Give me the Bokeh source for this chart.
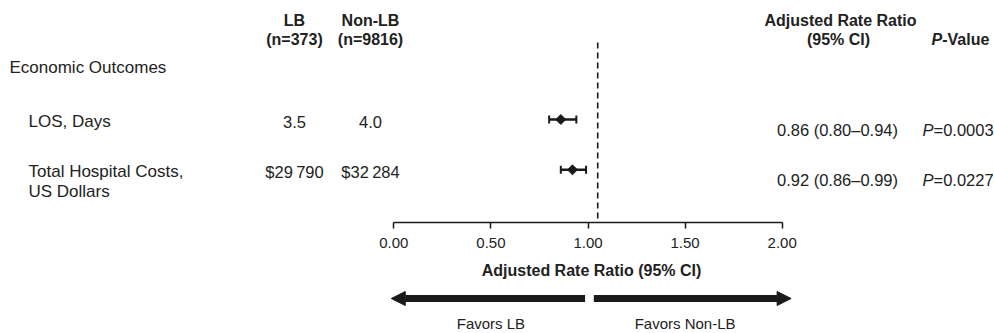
import math
from bokeh.plotting import figure
from bokeh.layouts import column
from bokeh.models import Range1d, FixedTicker, NumeralTickFormatter, Arrow, NormalHead, ColumnDataSource
from bokeh.core.properties import value
from bokeh.embed import file_html
from bokeh.resources import INLINE

# ---------------- data ----------------
outcomes = ["LOS, Days", "Total Hospital Costs,\nUS Dollars"]
lb_values = ["3.5", "$29\u2009790"]
nonlb_values = ["4.0", "$32\u2009284"]
rate_ratio = [0.86, 0.92]
ci_low = [0.80, 0.86]
ci_high = [0.94, 0.99]
rr_labels = ["0.86 (0.80\u20130.94)", "0.92 (0.86\u20130.99)"]
p_labels = ["=0.0003", "=0.0227"]
section = "Economic Outcomes"
ticks = [0.0, 0.5, 1.0, 1.5, 2.0]
ref_line = 1.05
axis_title = "Adjusted Rate Ratio (95% CI)"
favors = ["Favors LB", "Favors Non-LB"]

# ---------------- layout helpers ----------------
FONT = "Liberation Sans"
W, H = 994, 333
X0_PX, PX_PER_UNIT = 393.3, 194.2          # px of x=0, px per unit
ROW0_PX, ROW_STEP = 119.0, 50.3            # px of row 0, px per row
TOP_FRAME_H = 222
TOP_H = 256
BOT_H = H - TOP_H

def dx(px):
    return (px - X0_PX) / PX_PER_UNIT

def ry(py):
    return (py - ROW0_PX) / ROW_STEP

x_range = Range1d(dx(0), dx(W))

p = figure(width=W, height=TOP_H, x_range=x_range,
           y_range=Range1d(ry(TOP_FRAME_H), ry(0)),
           output_backend="svg", toolbar_location=None,
           min_border_left=0, min_border_right=0, min_border_top=0,
           min_border_bottom=TOP_H - TOP_FRAME_H)
p.outline_line_color = None
p.grid.visible = False
p.yaxis.visible = False
p.background_fill_color = "white"
p.border_fill_color = "white"

INK = "#1a1a1a"
TXT = "#222222"

ax = p.xaxis[0]
ax.bounds = (ticks[0], ticks[-1])
ax.ticker = FixedTicker(ticks=ticks)
ax.formatter = NumeralTickFormatter(format="0.00")
ax.major_tick_in = 0
ax.major_tick_out = 6
ax.minor_tick_line_color = None
ax.axis_line_width = 1.5
ax.major_tick_line_width = 1.5
ax.axis_line_color = INK
ax.major_tick_line_color = INK
ax.major_label_text_font = FONT
ax.major_label_text_font_size = "15px"
ax.major_label_text_color = TXT
ax.major_label_standoff = 9


def txt(fig, x, y, s, align="left", style="normal", size="17px"):
    fig.text(x=x, y=y, text=s, text_font=value(FONT), text_font_size=size,
             text_font_style=style, text_align=align, text_baseline="middle",
             text_color=TXT)

rows = list(range(len(outcomes)))

# headers
txt(p, [dx(294), dx(370)], [ry(20)] * 2, ["LB", "Non-LB"], align="center", style="bold", size="16px")
txt(p, [dx(294), dx(370)], [ry(39)] * 2, ["(n=373)", "(n=9816)"], align="center", style="bold", size="16px")
txt(p, [dx(840)], [ry(20)], ["Adjusted Rate Ratio"], align="center", style="bold", size="16px")
txt(p, [dx(838)], [ry(39)], ["(95% CI)"], align="center", style="bold", size="16px")
txt(p, [dx(931)], [ry(39)], ["P"], style="bold italic", size="16px")
txt(p, [dx(931 + 10.7)], [ry(39)], ["-Value"], style="bold", size="16px")

# section label
txt(p, [dx(9)], [ry(66.7)], [section])

# outcome labels (support two-line labels)
lab_x, lab_y, lab_t = [], [], []
for r, lab in zip(rows, outcomes):
    for k, line in enumerate(lab.split("\n")):
        lab_x.append(dx(28))
        lab_y.append(r + ry(ROW0_PX + 1.5 + 20 * k))
        lab_t.append(line)
txt(p, lab_x, lab_y, lab_t)

# values
val_y = [r + ry(ROW0_PX + 2) for r in rows]
txt(p, [dx(294)] * len(rows), val_y, lb_values, align="center", size="16.5px")
txt(p, [dx(370)] * len(rows), val_y, nonlb_values, align="center", size="16.5px")

# right columns
rc_y = [r + ry(ROW0_PX + 10.5) for r in rows]
txt(p, [dx(837)] * len(rows), rc_y, rr_labels, align="center", size="16.5px")
txt(p, [dx(922)] * len(rows), rc_y, ["P"] * len(rows), style="italic", size="16.5px")
txt(p, [dx(922 + 11)] * len(rows), rc_y, p_labels, size="16.5px")

# reference line
p.segment(x0=[ref_line], x1=[ref_line], y0=[ry(42)], y1=[ry(TOP_FRAME_H)],
          line_color=INK, line_width=1.6, line_dash="6 4")

# CIs
src = ColumnDataSource(dict(y=rows, rr=rate_ratio, lo=ci_low, hi=ci_high))
p.segment(x0="lo", x1="hi", y0="y", y1="y", source=src, line_color=INK, line_width=2.4)
p.scatter(x="lo", y="y", source=src, marker="dash", angle=math.pi / 2, size=8,
          line_color=INK, line_width=2)
p.scatter(x="hi", y="y", source=src, marker="dash", angle=math.pi / 2, size=8,
          line_color=INK, line_width=2)
p.scatter(x="rr", y="y", source=src, marker="square", angle=math.pi / 4, size=7,
          fill_color=INK, line_color=INK)

# ---------------- bottom strip (axis title + arrows) ----------------
b = figure(width=W, height=BOT_H, x_range=x_range, y_range=Range1d(BOT_H, 0),
           output_backend="svg", toolbar_location=None,
           min_border_left=0, min_border_right=0, min_border_top=0, min_border_bottom=0)
b.outline_line_color = None
b.grid.visible = False
b.axis.visible = False
b.border_fill_color = "white"

txt(b, [dx(591)], [270 - TOP_H], [axis_title], align="center", style="bold", size="16px")

arrow_y = 298 - TOP_H
b.add_layout(Arrow(end=NormalHead(size=14, fill_color=INK, line_color=INK),
                   x_start=0.985, x_end=-0.013, y_start=arrow_y, y_end=arrow_y,
                   line_width=7, line_color=INK))
b.add_layout(Arrow(end=NormalHead(size=14, fill_color=INK, line_color=INK),
                   x_start=1.03, x_end=2.046, y_start=arrow_y, y_end=arrow_y,
                   line_width=7, line_color=INK))
txt(b, [0.5, 1.5], [323 - TOP_H] * 2, favors, align="center", size="15px")

layout = column(p, b, spacing=0)
open("out.html", "w").write(file_html(layout, INLINE))
